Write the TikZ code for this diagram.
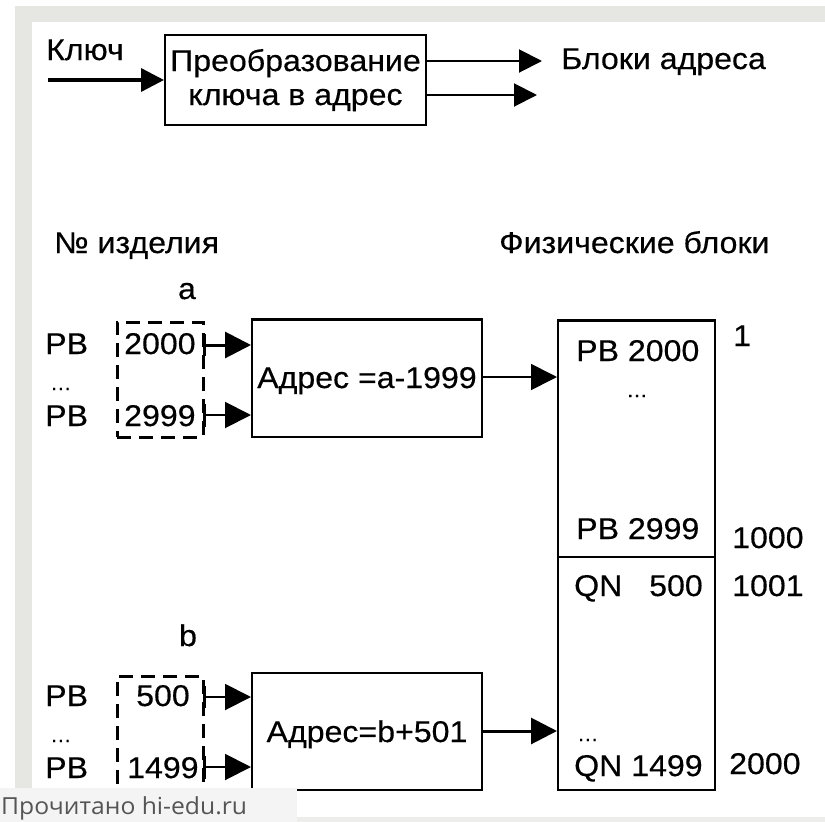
\documentclass[tikz,border=0pt]{standalone}
\usepackage{fontspec}
\setmainfont[FakeStretch=1.07,FakeBold=0.4]{Liberation Sans}
\newfontfamily\tipfont[FakeStretch=1.05]{Open Sans}
\usetikzlibrary{arrows.meta}
\definecolor{framegray}{HTML}{E6E6E3}
\definecolor{tipfill}{HTML}{F4F4F4}
\definecolor{tiptext}{HTML}{555555}
\begin{document}
\begin{tikzpicture}[x=1pt,y=-1pt,
  txt/.style={inner sep=0pt, font=\fontsize{30}{34}\selectfont},
  dots/.style={inner sep=0pt, font=\fontsize{20}{24}\selectfont},
  blk/.style={draw, line width=2pt, inner sep=0pt},
  dbox/.style={draw, line width=3pt, dash pattern=on 14pt off 8pt, inner sep=0pt},
  arr/.style={-{Triangle[length=26pt,width=26pt]}},
  arrs/.style={-{Triangle[length=23pt,width=23pt]}}]
\useasboundingbox (0,0) rectangle (825,822);
\fill[white] (0,0) rectangle (825,822);
% frame
\fill[framegray] (15,6) rectangle (825,22);
\fill[framegray] (15,6) rectangle (32,790);

% top part
\node[blk, minimum width=261pt, minimum height=90pt] (conv) at (295.5,80) {};
\node[txt, anchor=base] (convt1) at (295.5,71) {Преобразование};
\node[txt, anchor=base] (convt2) at (295.5,105) {ключа в адрес};
\node[txt, anchor=base west] (key) at (46,60) {Ключ};
\coordinate (kin) at (48,80);
\draw[arrs, line width=3.5pt] (kin) -- (conv.west |- kin);
\coordinate (o1) at (542,61);
\coordinate (o2) at (537,95);
\draw[arrs, line width=2pt] (conv.east |- o1) -- (o1);
\draw[arrs, line width=2pt] (conv.east |- o2) -- (o2);
\node[txt, anchor=base west] (blocks) at (561,69) {Блоки адреса};

% headers
\node[txt, anchor=base west] (hnum) at (54,253) {№ изделия};
\node[txt, anchor=base west] (hphys) at (499,253) {Физические блоки};

% section a
\node[txt, anchor=base] (la) at (187,299) {a};
\node[dbox, minimum width=86pt, minimum height=115pt] (da) at (160,379.5) {};
\node[txt, anchor=base west] (pa1) at (45,354) {PB};
\node[txt, anchor=base west] (na1) at (124,354) {2000};
\node[dots, anchor=base west] (ea) at (50,390) {…};
\node[txt, anchor=base west] (pa2) at (45,426) {PB};
\node[txt, anchor=base west] (na2) at (124,426) {2999};
\node[blk, minimum width=230pt, minimum height=117pt] (adra) at (367,378.5) {};
\draw[line width=3pt] (adra.north west) -- (adra.north east);
\node[txt, anchor=base] (adrat) at (367,388) {Адрес =a-1999};
\draw[line width=3pt] (da.east |- 0,334) -- (da.east |- 0,356);
\draw[line width=3pt] (da.east |- 0,404) -- (da.east |- 0,427);
\draw[arr, line width=3pt] (da.east |- 0,345) -- (adra.west |- 0,345);
\draw[arr, line width=2pt] (da.east |- 0,415) -- (adra.west |- 0,415);

% physical blocks
\node[blk, minimum width=157pt, minimum height=469pt] (phys) at (636.5,555.5) {};
\draw[line width=3pt] (phys.north west) -- (phys.north east);
\draw[line width=2pt] (phys.west |- 0,557) -- (phys.east |- 0,557);
\draw[arr, line width=1.7pt] (adra.east |- 0,377) -- (phys.west |- 0,377);
\node[txt, anchor=base west] (p1) at (576,361) {PB 2000};
\node[dots, anchor=base] (pe1) at (637,397) {…};
\node[txt, anchor=base west] (p2) at (576,539) {PB 2999};
\node[txt, anchor=base west] (q1) at (574,596) {QN};
\node[txt, anchor=base west] (q1n) at (649,596) {500};
\node[dots, anchor=base west] (pe2) at (577,741) {…};
\node[txt, anchor=base west] (q2) at (574,776) {QN 1499};
\node[txt, anchor=base west] (r1) at (733,346) {1};
\node[txt, anchor=base west] (r2) at (732,548) {1000};
\node[txt, anchor=base west] (r3) at (732,596) {1001};
\node[txt, anchor=base west] (r4) at (729,774) {2000};

% section b
\node[txt, anchor=base] (lb) at (188,646) {b};
\node[dbox, minimum width=86pt, minimum height=130pt] (db) at (160,741) {};
\node[txt, anchor=base west] (pb1) at (45,706) {PB};
\node[txt, anchor=base west] (nb1) at (136,706) {500};
\node[dots, anchor=base west] (eb) at (50,742) {…};
\node[txt, anchor=base west] (pb2) at (45,778) {PB};
\node[txt, anchor=base west] (nb2) at (127,778) {1499};
\node[blk, minimum width=230pt, minimum height=117pt] (adrb) at (367,731.5) {};
\node[txt, anchor=base] (adrbt) at (367,742) {Адрес=b+501};
\draw[line width=3pt] (db.east |- 0,686) -- (db.east |- 0,708);
\draw[line width=3pt] (db.east |- 0,756) -- (db.east |- 0,779);
\draw[arr, line width=2pt] (db.east |- 0,697) -- (adrb.west |- 0,697);
\draw[arr, line width=2pt] (db.east |- 0,767) -- (adrb.west |- 0,767);
\draw[arr, line width=3pt] (adrb.east |- 0,731) -- (phys.west |- 0,731);

% tooltip and bottom bar
\fill[framegray!70] (297,817) rectangle (825,822);
\node[fill=tipfill, minimum width=297pt, minimum height=34pt, anchor=north west, inner sep=0pt] (tip) at (0,788) {};
\node[anchor=base west, inner sep=0pt, text=tiptext, font=\tipfont\fontsize{23.5}{26}\selectfont] (tipt) at (1,814) {Прочитано hi-edu.ru};
\end{tikzpicture}
\end{document}
